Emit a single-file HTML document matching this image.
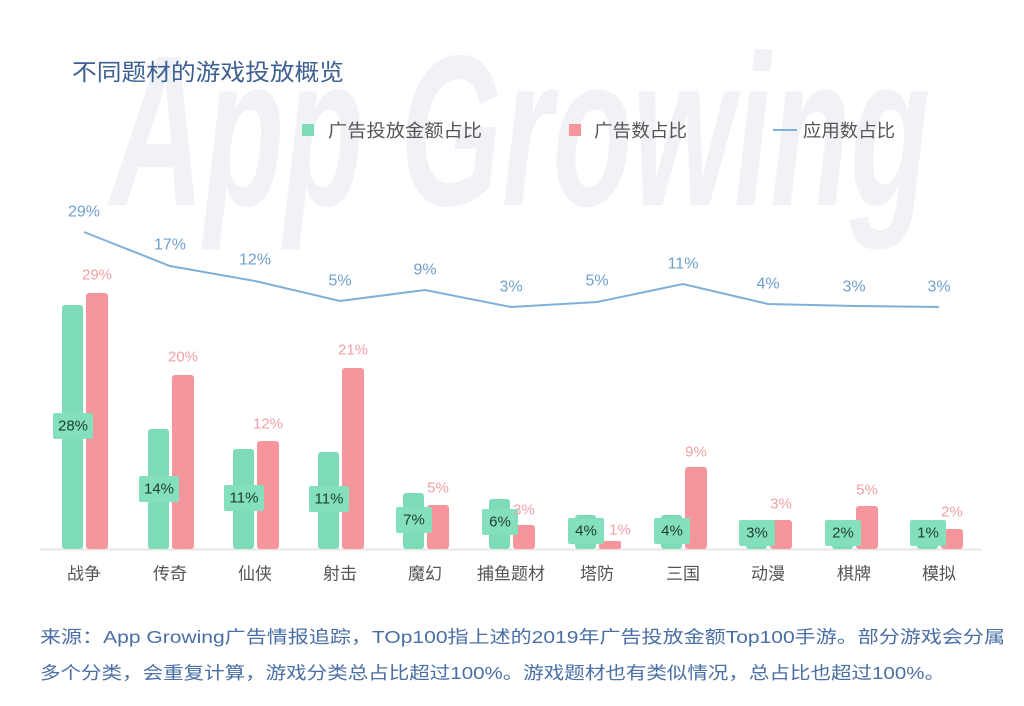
<!DOCTYPE html>
<html><head><meta charset="utf-8"><style>
html,body{margin:0;padding:0;background:#fff;}
svg{display:block;font-family:"Liberation Sans","Noto Sans CJK SC",sans-serif;}
</style></head><body>
<svg width="1024" height="706" viewBox="0 0 1024 706">
<rect width="1024" height="706" fill="#fff"/>
<text x="110" y="205" font-size="215" font-style="italic" font-weight="bold" fill="#f0f2f5" textLength="820" lengthAdjust="spacingAndGlyphs" font-family="Liberation Sans,sans-serif">App Growing</text>
<text x="72" y="80" font-size="23" fill="#3d5f92" textLength="272" lengthAdjust="spacingAndGlyphs">不同题材的游戏投放概览</text>
<rect x="302" y="124" width="12" height="12" fill="#7ddbb8"/>
<text x="328" y="137" font-size="18" fill="#555" textLength="154" lengthAdjust="spacingAndGlyphs">广告投放金额占比</text>
<rect x="569" y="124" width="12" height="12" fill="#f7959c"/>
<text x="594" y="137" font-size="18" fill="#555" textLength="93" lengthAdjust="spacingAndGlyphs">广告数占比</text>
<line x1="773" y1="130" x2="797" y2="130" stroke="#7fb0d8" stroke-width="2"/>
<text x="803" y="137" font-size="18" fill="#555" textLength="92" lengthAdjust="spacingAndGlyphs">应用数占比</text>
<line x1="40" y1="549.5" x2="982" y2="549.5" stroke="#e6e6e6" stroke-width="2"/>
<g fill="#7ddbb8">
<rect x="62" y="305" width="21" height="244" rx="3"/>
<rect x="148" y="429" width="21" height="120" rx="3"/>
<rect x="233" y="449" width="21" height="100" rx="3"/>
<rect x="318" y="452" width="21" height="97" rx="3"/>
<rect x="403" y="493" width="21" height="56" rx="3"/>
<rect x="489" y="499" width="21" height="50" rx="3"/>
<rect x="575" y="515" width="21" height="34" rx="3"/>
<rect x="661" y="515" width="21" height="34" rx="3"/>
<rect x="746" y="520" width="21" height="29" rx="3"/>
<rect x="832" y="520" width="21" height="29" rx="3"/>
<rect x="917" y="520" width="21" height="29" rx="3"/>
</g>
<g fill="#f7959c">
<rect x="86" y="293" width="22" height="256" rx="3"/>
<rect x="172" y="375" width="22" height="174" rx="3"/>
<rect x="257" y="441" width="22" height="108" rx="3"/>
<rect x="342" y="368" width="22" height="181" rx="3"/>
<rect x="427" y="505" width="22" height="44" rx="3"/>
<rect x="513" y="525" width="22" height="24" rx="3"/>
<rect x="599" y="541" width="22" height="8" rx="2"/>
<rect x="685" y="467" width="22" height="82" rx="3"/>
<rect x="770" y="520" width="22" height="29" rx="3"/>
<rect x="856" y="506" width="22" height="43" rx="3"/>
<rect x="941" y="529" width="22" height="20" rx="3"/>
</g>
<g fill="#84dfbd">
<rect x="53" y="413" width="40" height="26" rx="2"/>
<rect x="139" y="476" width="40" height="26" rx="2"/>
<rect x="224" y="485" width="40" height="26" rx="2"/>
<rect x="309" y="486" width="40" height="26" rx="2"/>
<rect x="396" y="507" width="36" height="26" rx="2"/>
<rect x="482" y="509" width="36" height="26" rx="2"/>
<rect x="568" y="518" width="36" height="26" rx="2"/>
<rect x="654" y="518" width="36" height="26" rx="2"/>
<rect x="739" y="520" width="36" height="26" rx="2"/>
<rect x="825" y="520" width="36" height="26" rx="2"/>
<rect x="910" y="520" width="36" height="26" rx="2"/>
</g>
<g font-size="15" fill="#1e3d33" text-anchor="middle" dominant-baseline="central">
<text x="73" y="426">28%</text><text x="159" y="489">14%</text><text x="244" y="498">11%</text><text x="329" y="499">11%</text>
<text x="414" y="520">7%</text><text x="500" y="522">6%</text><text x="586" y="531">4%</text><text x="672" y="531">4%</text>
<text x="757" y="533">3%</text><text x="843" y="533">2%</text><text x="928" y="533">1%</text>
</g>
<g font-size="15" fill="#f1a0a6" text-anchor="middle" dominant-baseline="central">
<text x="97" y="275">29%</text><text x="183" y="357">20%</text><text x="268" y="424">12%</text><text x="353" y="350">21%</text>
<text x="438" y="488">5%</text><text x="524" y="510">3%</text><text x="620" y="530">1%</text><text x="696" y="452">9%</text>
<text x="781" y="504">3%</text><text x="867" y="490">5%</text><text x="952" y="512">2%</text>
</g>
<polyline fill="none" stroke="#7fb0d8" stroke-width="2" points="84,232 170,266 255,281 340,301 425,290 511,307 597,302 683,284 768,304 854,306 939,307"/>
<g font-size="16" fill="#6f9fcb" text-anchor="middle" dominant-baseline="central">
<text x="84" y="212">29%</text><text x="170" y="245">17%</text><text x="255" y="260">12%</text><text x="340" y="281">5%</text>
<text x="425" y="270">9%</text><text x="511" y="287">3%</text><text x="597" y="281">5%</text><text x="683" y="264">11%</text>
<text x="768" y="284">4%</text><text x="854" y="287">3%</text><text x="939" y="287">3%</text>
</g>
<g font-size="17" fill="#555" text-anchor="middle" dominant-baseline="central">
<text x="84" y="574">战争</text><text x="170" y="574">传奇</text><text x="255" y="574">仙侠</text><text x="340" y="574">射击</text>
<text x="425" y="574">魔幻</text><text x="511" y="574">捕鱼题材</text><text x="597" y="574">塔防</text><text x="683" y="574">三国</text>
<text x="768" y="574">动漫</text><text x="854" y="574">棋牌</text><text x="939" y="574">模拟</text>
</g>
<g font-size="17.5" fill="#4a6fa5">
<text x="40" y="643" textLength="965" lengthAdjust="spacingAndGlyphs">来源：App Growing广告情报追踪，TOp100指上述的2019年广告投放金额Top100手游。部分游戏会分属</text>
<text x="40" y="679" textLength="905" lengthAdjust="spacingAndGlyphs">多个分类，会重复计算，游戏分类总占比超过100%。游戏题材也有类似情况，总占比也超过100%。</text>
</g>
</svg>
</body></html>
